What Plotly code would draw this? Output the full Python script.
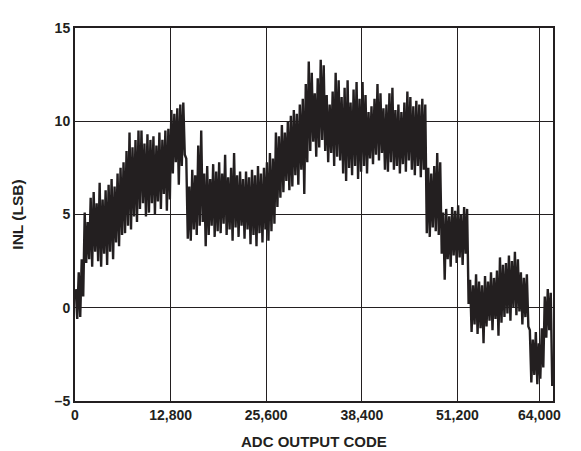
import plotly.graph_objects as go

# Bin width in ADC codes used to read the envelope off the picture
bin_codes = 400
# Upper envelope of INL (LSB) per 400-code bin, codes 0..64000
inl_high = [
    1.0, 1.9, 2.6, 5.1, 4.6, 5.9, 6.2, 5.6,
    6.7, 5.8, 6.3, 6.6, 6.9, 6.5, 7.2, 7.5,
    7.8, 8.4, 9.4, 8.6, 9.0, 9.5, 9.5, 8.8,
    9.3, 9.0, 9.2, 8.7, 9.4, 9.0, 9.5, 9.6,
    10.6, 10.4, 10.7, 10.9, 11.0, 8.0, 6.5, 7.4,
    7.1, 8.7, 9.5, 7.2, 7.6, 6.9, 7.7, 7.3,
    7.8, 7.2, 8.2, 7.0, 7.5, 8.3, 7.1, 7.3,
    6.9, 7.3, 7.0, 7.4, 7.1, 7.6, 7.2, 7.5,
    7.8, 8.3, 8.0, 9.4, 9.2, 9.8, 9.4, 10.0,
    10.3, 10.6, 10.4, 10.9, 11.2, 12.0, 13.2, 12.6,
    11.5, 12.3, 13.3, 13.0, 11.4, 10.9, 11.6, 12.6,
    12.2, 11.3, 11.8, 12.2, 11.0, 11.7, 12.1, 11.2,
    12.1, 11.4, 10.5, 10.8, 11.2, 12.0, 11.5, 10.7,
    10.9, 11.5, 11.8, 10.6, 10.9, 10.5, 11.0, 11.6,
    11.3, 10.8, 11.1, 10.9, 11.2, 10.9, 7.5, 7.2,
    7.6, 8.3, 7.8, 5.1, 5.3, 4.9, 5.4, 5.2,
    5.5, 5.0, 5.4, 5.3, 1.5, 1.2, 1.8, 1.4,
    1.2, 1.7, 1.4, 1.9, 1.6, 2.0, 2.7, 2.3,
    2.4, 2.8, 2.5, 3.0, 2.6, 1.9, 1.6, 1.8,
    -1.2, -1.7, -1.3, -1.9, -1.1, 0.6, 1.0, 0.8,
]
# Lower envelope of INL (LSB) per 400-code bin
inl_low = [
    -0.6, -0.5, 0.6, 2.4, 2.6, 2.2, 3.0, 2.5,
    2.2, 2.9, 2.3, 3.0, 2.6, 3.5, 3.3, 3.9,
    4.0, 4.4, 4.2, 4.9, 4.6, 5.3, 5.6, 4.9,
    5.1, 5.6, 5.0, 5.7, 5.3, 6.1, 5.2, 5.8,
    7.2, 7.8, 6.6, 7.6, 8.2, 3.7, 3.6, 4.2,
    3.9, 4.4, 4.6, 3.3, 3.9, 4.4, 3.8, 4.1,
    4.0, 4.5, 3.9, 4.2, 3.6, 4.3, 3.8, 4.4,
    3.7, 4.2, 3.4, 3.9, 3.3, 4.0, 3.5, 4.2,
    3.6, 4.1, 4.5, 5.4, 5.9, 6.2, 6.8, 6.3,
    6.5, 7.1, 6.6, 7.4, 6.1, 7.8, 8.4, 8.9,
    8.1, 8.6, 9.0, 8.4, 7.8, 8.3, 7.6, 8.1,
    7.9, 7.2, 6.8, 7.5, 7.1, 7.6, 6.9, 7.3,
    7.6, 7.2, 8.0, 7.7, 8.2, 7.9, 8.3, 7.4,
    7.3, 7.8, 7.4, 7.6, 7.2, 7.7, 7.3, 7.9,
    7.4, 7.1, 7.6, 7.0, 7.4, 4.0, 3.8, 4.3,
    4.1, 3.9, 2.9, 1.5, 2.6, 2.2, 2.8, 2.4,
    2.7, 2.3, 2.9, 0.2, -1.3, -0.9, -1.4, -1.1,
    -1.9, -1.0, -0.7, -1.2, -0.6, -1.5, -0.8, -0.5,
    -0.3, -0.7, 0.0, -0.4, -0.2, -0.9, -0.5, -1.0,
    -4.0, -3.6, -4.1, -3.8, -3.2, -1.6, -1.2, -4.2,
]

x_tick_vals = [0, 12800, 25600, 38400, 51200, 62170]
x_tick_text = ["0", "12,800", "25,600", "38,400", "51,200", "64,000"]
y_tick_vals = [-5, 0, 5, 10, 15]
y_tick_text = ["–5", "0", "5", "10", "15"]

xs, ys = [], []
for i, (h, l) in enumerate(zip(inl_high, inl_low)):
    xs += [i * bin_codes + bin_codes * 0.25, i * bin_codes + bin_codes * 0.75]
    ys += [h, l]

ink = "#231f20"
font = "Liberation Sans, Arial, sans-serif"

fig = go.Figure(go.Scatter(x=xs, y=ys, mode="lines",
                           line=dict(color=ink, width=2.4), hoverinfo="skip"))

# the page body adds an 8 px offset, so the figure is sized to compensate
fig.update_layout(
    width=573, height=443,
    margin=dict(l=67, r=28, t=12, b=50),
    paper_bgcolor="white", plot_bgcolor="white",
    showlegend=False,
    font=dict(family=font, color=ink),
    xaxis=dict(range=[0, 64000], tickvals=x_tick_vals, ticktext=x_tick_text,
               showgrid=True, gridcolor=ink, gridwidth=1,
               showline=True, mirror=True, linecolor=ink, linewidth=2,
               ticks="", zeroline=False,
               tickfont=dict(size=14, family=font, weight="bold", color=ink)),
    yaxis=dict(range=[-5, 15], tickvals=y_tick_vals, ticktext=y_tick_text,
               showgrid=True, gridcolor=ink, gridwidth=1,
               showline=True, mirror=True, linecolor=ink, linewidth=2,
               ticks="", zeroline=False,
               tickfont=dict(size=14, family=font, weight="bold", color=ink)),
    annotations=[
        dict(text="ADC OUTPUT CODE", xref="paper", yref="paper",
             x=0.5, y=-0.108, xanchor="center", yanchor="middle", showarrow=False,
             font=dict(size=15, family=font, weight="bold", color=ink)),
        dict(text="INL (LSB)", xref="paper", yref="paper",
             x=-0.121, y=0.5, xanchor="center", yanchor="middle", showarrow=False,
             textangle=-90,
             font=dict(size=15.5, family=font, weight="bold", color=ink)),
    ],
)

fig.write_html("out.html")
